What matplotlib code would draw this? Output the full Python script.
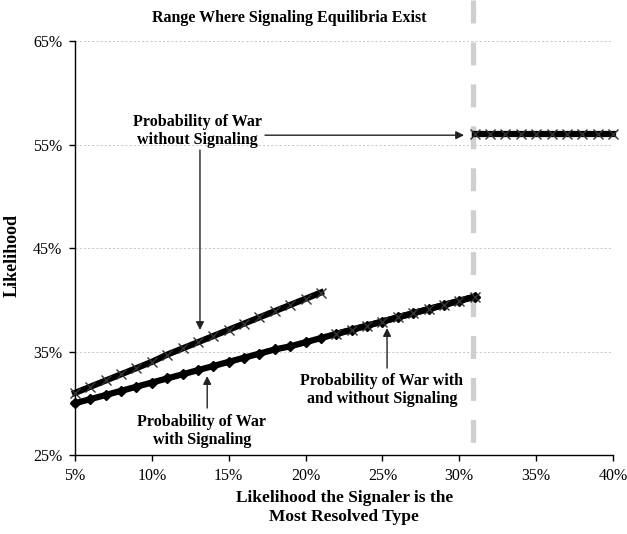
import matplotlib
matplotlib.use("Agg")
import matplotlib.pyplot as plt
from matplotlib.lines import Line2D

plt.rcParams['font.family'] = ['Liberation Serif', 'DejaVu Serif']
plt.rcParams['lines.scale_dashes'] = False

# ---- data (percent) ----
x_upper = [5, 6, 7, 8, 9, 10, 11, 12, 13, 14, 15, 16, 17, 18, 19, 20, 21]
y_upper = [31.0, 31.6, 32.2, 32.8, 33.4, 34.0, 34.7, 35.3, 35.9, 36.5, 37.1,
           37.7, 38.3, 38.9, 39.5, 40.1, 40.7]

x_lower = list(range(5, 32))
y_lower = [30.0, 30.4, 30.8, 31.2, 31.6, 32.0, 32.4, 32.8, 33.2, 33.6, 34.0,
           34.4, 34.8, 35.2, 35.5, 35.9, 36.3, 36.7, 37.1, 37.5, 37.9, 38.3,
           38.7, 39.1, 39.5, 39.9, 40.3]

x_mid = [22, 23, 24, 25, 26, 27, 28, 29, 30, 31]
y_mid = [38.3, 38.7, 39.1, 39.5, 39.9, 40.3, 40.7, 41.1, 41.5, 41.9]
y_mid = y_lower[-10:]

x_flat = [31, 32, 33, 34, 35, 36, 37, 38, 39, 40]
y_flat = [56.0, 56.0, 56.0, 56.0, 56.0, 56.0, 56.0, 56.0, 56.0, 56.0]

threshold = 30.9

x_ticks = [5, 10, 15, 20, 25, 30, 35, 40]
y_ticks = [25, 35, 45, 55, 65]

fig = plt.figure(figsize=(6.27, 5.34), dpi=100)
ax = fig.add_axes([0.1196, 0.1479, 0.8581, 0.7753])

ax.set_xlim(5, 40)
ax.set_ylim(25, 65)

for yv in y_ticks[1:]:
    ax.axhline(yv, color='#c0c0c0', lw=0.6, ls=(0, (1.5, 1.5)), zorder=0)

# threshold dashed gray line extending above the axes
ln = Line2D([threshold, threshold], [68.96, 26.16], color='#cfcfcf', lw=3.8,
            dashes=(16.5, 13.7), clip_on=False, zorder=1, solid_capstyle='butt',
            dash_capstyle='butt')
ax.add_line(ln)

lw = 4.5
ax.plot(x_upper, y_upper, color='black', lw=lw, marker='x', ms=7, mew=1.0,
        mec='#333333', zorder=3, clip_on=False)
ax.plot(x_lower, y_lower, color='black', lw=lw, marker='D', ms=5, mec='black',
        mfc='black', zorder=3, clip_on=False)
ax.plot(x_mid, y_mid, color='black', lw=lw, marker='x', ms=7, mew=1.0,
        mec='#333333', zorder=4, clip_on=False)
ax.plot(x_flat, y_flat, color='black', lw=lw, marker='x', ms=7, mew=1.0,
        mec='#333333', zorder=3, clip_on=False)

for s in ['top', 'right']:
    ax.spines[s].set_visible(False)
for s in ['left', 'bottom']:
    ax.spines[s].set_linewidth(1.0)

ax.set_xticks(x_ticks)
ax.set_xticklabels([f"{v}%" for v in x_ticks])
ax.set_yticks(y_ticks)
ax.set_yticklabels([f"{v}%" for v in y_ticks])
ax.tick_params(axis='both', direction='out', length=4, width=1.0,
               labelsize=11.5, pad=5)

aprops = dict(arrowstyle='-|>', color='#222222', lw=1.0,
              mutation_scale=12, shrinkA=0, shrinkB=0)
tkw = dict(ha='center', va='center', fontsize=11.5, fontweight='bold',
           linespacing=1.15)

ax.text(12.94, 56.3, "Probability of War\nwithout Signaling", **tkw)
ax.annotate("", xy=(13.13, 37.08), xytext=(13.13, 54.47), arrowprops=aprops)
ax.annotate("", xy=(30.31, 55.9), xytext=(17.36, 55.9), arrowprops=aprops)

ax.text(24.97, 31.28, "Probability of War with\nand without Signaling", **tkw)
ax.annotate("", xy=(25.3, 37.27), xytext=(25.3, 33.4), arrowprops=aprops)

ax.text(13.26, 27.32, "Probability of War\nwith Signaling", **tkw)
ax.annotate("", xy=(13.6, 32.63), xytext=(13.6, 29.54), arrowprops=aprops)

fig.text(0.461, 0.966, "Range Where Signaling Equilibria Exist", ha='center',
         va='center', fontsize=11.5, fontweight='bold')
fig.text(0.549, 0.05, "Likelihood the Signaler is the\nMost Resolved Type",
         ha='center', va='center', fontsize=12.5, fontweight='bold',
         linespacing=1.3)
fig.text(0.019, 0.522, "Likelihood", ha='center', va='center', rotation=90,
         fontsize=13, fontweight='bold')

fig.savefig("out.png", dpi=100)
